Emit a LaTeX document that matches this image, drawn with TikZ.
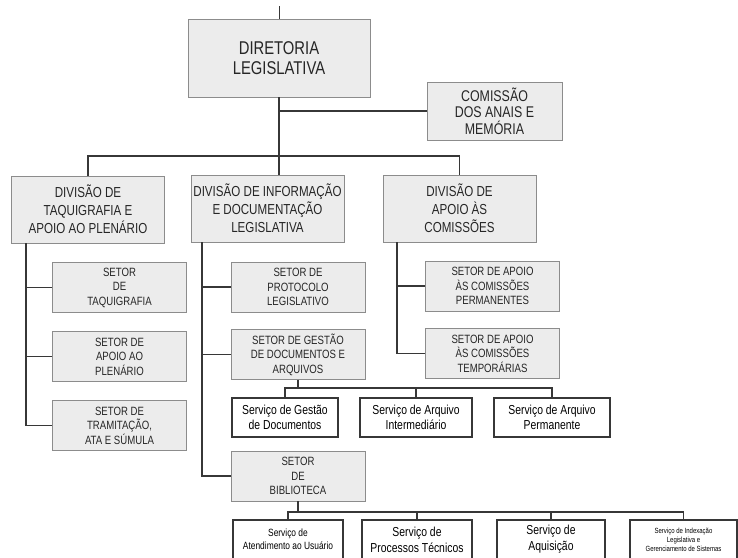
\documentclass[tikz,border=0pt]{standalone}
\usepackage{fontspec}
\setmainfont{Liberation Sans}[FakeStretch=0.8]
\usepackage{xcolor}
\definecolor{orgfill}{RGB}{236,236,236}
\definecolor{orgedge}{RGB}{140,140,140}
\definecolor{orgline}{RGB}{55,55,55}
\usetikzlibrary{positioning,calc}

\begin{document}
\begin{tikzpicture}[x=1pt,y=-1pt,
  gbox/.style={draw=orgedge,line width=0.9pt,fill=orgfill,inner sep=0pt,
    align=center,text=black!85},
  dirbox/.style={gbox,minimum width=182,minimum height=78,
    font=\fontsize{18.5}{20}\selectfont},
  combox/.style={gbox,minimum width=135,minimum height=58,
    font=\fontsize{15.5}{16.5}\selectfont},
  divbox/.style={gbox,minimum width=153,minimum height=67,
    font=\fontsize{14.5}{18}\selectfont},
  setbox/.style={gbox,minimum width=134,minimum height=50,
    font=\fontsize{12}{14.5}\selectfont},
  servbox/.style={draw=orgline,line width=1.6pt,fill=white,inner sep=0pt,
    align=center,text=black},
  link/.style={draw=orgline,line width=1.4pt}
]
  \useasboundingbox (0,0) rectangle (738,557);

  \node[dirbox] (dir) at (279,58) {DIRETORIA\\LEGISLATIVA};
  \coordinate (top) at (279,6);
  \node[combox] (com) at (494.5,111) {COMISSÃO\\DOS ANAIS E\\MEMÓRIA};

  \node[divbox] (div1) at (88,209.5) {DIVISÃO DE\\TAQUIGRAFIA E\\APOIO AO PLENÁRIO};
  \node[divbox] (div2) at (267.5,208.5) {DIVISÃO DE INFORMAÇÃO\\E DOCUMENTAÇÃO\\LEGISLATIVA};
  \node[divbox] (div3) at (459.5,208.5) {DIVISÃO DE\\APOIO ÀS\\COMISSÕES};

  \node[setbox] (taq) at (119.5,287.5) {SETOR\\DE\\TAQUIGRAFIA};
  \node[setbox] (apo) at (119.5,356.5) {SETOR DE\\APOIO AO\\PLENÁRIO};
  \node[setbox] (tra) at (119.5,425.5) {SETOR DE\\TRAMITAÇÃO,\\ATA E SÚMULA};

  \node[setbox] (pro) at (298,287) {SETOR DE\\PROTOCOLO\\LEGISLATIVO};
  \node[setbox] (ges) at (298,354.5) {SETOR DE GESTÃO\\DE DOCUMENTOS E\\ARQUIVOS};
  \node[setbox] (bib) at (298,476) {SETOR\\DE\\BIBLIOTECA};

  \node[setbox] (per) at (492.5,286) {SETOR DE APOIO\\ÀS COMISSÕES\\PERMANENTES};
  \node[setbox] (tem) at (492.5,353.5) {SETOR DE APOIO\\ÀS COMISSÕES\\TEMPORÁRIAS};

  \node[servbox,minimum width=106,minimum height=39,font=\fontsize{13}{15}\selectfont]
    (sgd) at (285,417.5) {Serviço de Gestão\\de Documentos};
  \node[servbox,minimum width=112,minimum height=39,font=\fontsize{13}{15}\selectfont]
    (sai) at (416,417.5) {Serviço de Arquivo\\Intermediário};
  \node[servbox,minimum width=116,minimum height=39,font=\fontsize{13}{15}\selectfont]
    (sap) at (552,417.5) {Serviço de Arquivo\\Permanente};

  \node[servbox,minimum width=110,minimum height=39,font=\fontsize{10.5}{13}\selectfont]
    (sau) at (288,539.5) {Serviço de\\Atendimento ao Usuário};
  \node[servbox,minimum width=110,minimum height=39,font=\fontsize{13}{16}\selectfont]
    (spt) at (417,539.5) {Serviço de\\Processos Técnicos};
  \node[servbox,minimum width=108,minimum height=39,font=\fontsize{13}{16}\selectfont]
    (saq) at (551,539.5) {Serviço de\\Aquisição};
  \node[servbox,minimum width=107,minimum height=39,font=\fontsize{7.5}{9}\selectfont]
    (sig) at (683.5,539.5) {Serviço de Indexação\\Legislativa e\\Gerenciamento de Sistemas};

  \coordinate (bar) at (0,156);
  \coordinate (s1) at (26,0);
  \coordinate (s2) at (202,0);
  \coordinate (s3) at (397,0);
  \coordinate (r1) at (0,388);
  \coordinate (r2) at (0,512);

  \draw[link,line width=0.8pt] (dir.north) -- (top);
  \draw[link] (dir.south) -- (div2.north -| dir.south);
  \draw[link] (com.west) -- (com.west -| dir.south);
  \draw[link] (div1.north) |- (div3.north |- bar) -- (div3.north);

  \draw[link] (div1.south -| s1) |- (tra.west);
  \draw[link] (taq.west) -- (taq.west -| s1);
  \draw[link] (apo.west) -- (apo.west -| s1);

  \draw[link] (div2.south -| s2) |- (bib.west);
  \draw[link] (pro.west) -- (pro.west -| s2);
  \draw[link] (ges.west) -- (ges.west -| s2);

  \draw[link] (div3.south -| s3) |- (tem.west);
  \draw[link] (per.west) -- (per.west -| s3);

  \draw[link] (ges.south) -- (ges.south |- r1);
  \draw[link] (sgd.north) |- (sap.north |- r1) -- (sap.north);
  \draw[link] (sai.north) -- (sai.north |- r1);

  \draw[link] (bib.south) -- (bib.south |- r2);
  \draw[link] (sau.north) |- (sig.north |- r2) -- (sig.north);
  \draw[link] (spt.north) -- (spt.north |- r2);
  \draw[link] (saq.north) -- (saq.north |- r2);
\end{tikzpicture}
\end{document}
